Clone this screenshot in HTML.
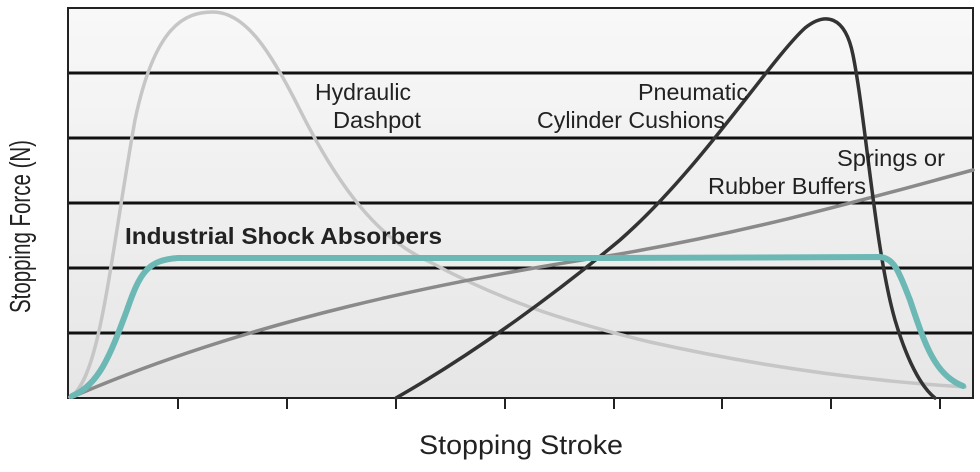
<!DOCTYPE html>
<html><head><style>
body{margin:0;background:#fff;}
svg text{font-family:"Liberation Sans",sans-serif;fill:#222;}
</style></head><body>
<svg width="980" height="467" viewBox="0 0 980 467" xmlns="http://www.w3.org/2000/svg">
<defs><linearGradient id="bg" x1="0" y1="0" x2="0" y2="1">
<stop offset="0" stop-color="#f8f8f8"/><stop offset="1" stop-color="#e6e6e6"/></linearGradient></defs>
<rect x="68" y="8" width="905" height="390" fill="url(#bg)"/>
<g stroke="#111" stroke-width="3">
<line x1="68" y1="73" x2="973" y2="73"/>
<line x1="68" y1="138" x2="973" y2="138"/>
<line x1="68" y1="203" x2="973" y2="203"/>
<line x1="68" y1="268" x2="973" y2="268"/>
<line x1="68" y1="333" x2="973" y2="333"/>
</g>
<rect x="68" y="8" width="905" height="390" fill="none" stroke="#222" stroke-width="2"/>
<g stroke="#222" stroke-width="2">
<line x1="178" y1="398" x2="178" y2="409"/><line x1="287" y1="398" x2="287" y2="409"/>
<line x1="396" y1="398" x2="396" y2="409"/><line x1="505" y1="398" x2="505" y2="409"/>
<line x1="614" y1="398" x2="614" y2="409"/><line x1="722" y1="398" x2="722" y2="409"/>
<line x1="831" y1="398" x2="831" y2="409"/><line x1="940" y1="398" x2="940" y2="409"/>
</g>
<g fill="none" stroke-linecap="round">
<path d="M70,397 C100,380 110,260 135,120 C155,25 185,12 213,12 C245,12 270,50 300,110 C340,190 380,240 430,262 C500,300 560,320 650,342 C740,362 850,380 965,387" stroke="#c6c6c6" stroke-width="3.5"/>
<path d="M72,397 C250,320 450,280 614,255 C760,230 880,195 973,170" stroke="#8a8a8a" stroke-width="3.5"/>
<path d="M396,398 C480,350 560,290 620,240 C700,170 770,60 805,28 C825,12 845,15 853,55 C866,120 875,250 895,320 C910,370 925,390 935,398" stroke="#333" stroke-width="3.5"/>
<path d="M72,396 C100,385 112,350 127,310 C140,272 148,260 178,258 L614,258 L880,257 C895,258 900,275 910,300 C925,345 935,375 963,386" stroke="#6bb8b4" stroke-width="6"/>
</g>
<g font-size="23">
<text x="315" y="100" textLength="96" lengthAdjust="spacingAndGlyphs">Hydraulic</text>
<text x="333" y="128" textLength="88" lengthAdjust="spacingAndGlyphs">Dashpot</text>
<text x="638" y="100" textLength="110" lengthAdjust="spacingAndGlyphs">Pneumatic</text>
<text x="537" y="128" textLength="188" lengthAdjust="spacingAndGlyphs">Cylinder Cushions</text>
<text x="837" y="166" textLength="108" lengthAdjust="spacingAndGlyphs">Springs or</text>
<text x="708" y="194" textLength="158" lengthAdjust="spacingAndGlyphs">Rubber Buffers</text>
<text x="125" y="244" font-weight="bold" textLength="317" lengthAdjust="spacingAndGlyphs">Industrial Shock Absorbers</text>
</g>
<text x="419" y="454" font-size="27" textLength="204" lengthAdjust="spacingAndGlyphs">Stopping Stroke</text>
<text transform="translate(30,313) rotate(-90)" font-size="29" textLength="173" lengthAdjust="spacingAndGlyphs">Stopping Force (N)</text>
</svg>
</body></html>
